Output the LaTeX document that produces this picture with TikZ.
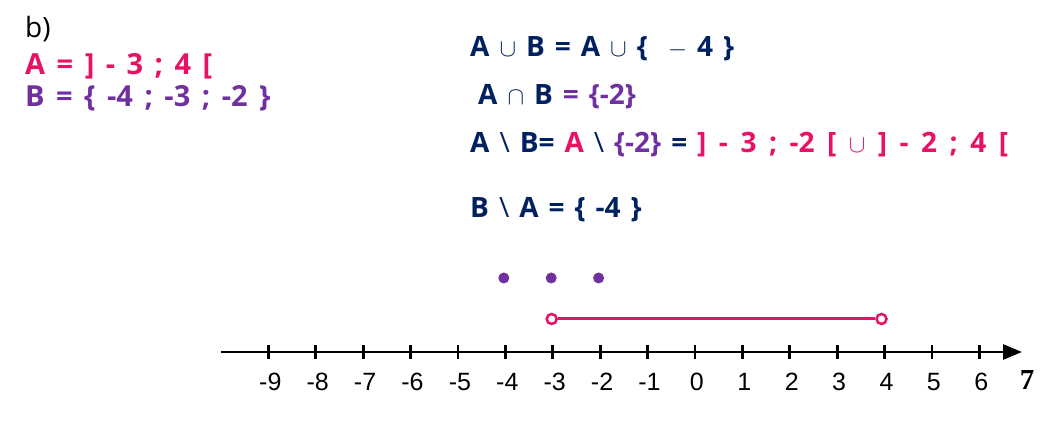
\documentclass[tikz,border=0pt]{standalone}
\usepackage{fontspec}
\setmainfont{Open Sans}
\newfontfamily\axisfont{Liberation Sans}
\newfontfamily\sevenfont{Liberation Serif}
\usetikzlibrary{calc, arrows.meta}

\definecolor{setA}{RGB}{232,17,101}
\definecolor{setB}{RGB}{112,48,160}
\definecolor{setOp}{RGB}{0,32,96}

\newcommand{\widesp}[1]{\spaceskip=#1\relax}
\newcommand{\bsl}{{\mdseries\textbackslash}}

\tikzset{
	txt/.style={anchor=base west, inner sep=0pt},
	deftxt/.style={txt, font=\fontsize{29}{31}\selectfont\bfseries, execute at begin node={\widesp{11.5pt}}},
	optxt/.style={txt, text=setOp, font=\fontsize{28}{30}\selectfont\bfseries, execute at begin node={\widesp{10pt}}},
	ticklbl/.style={inner sep=0pt, font=\axisfont\fontsize{25}{27}\selectfont},
	opendot/.style={circle, draw=setA, fill=white, line width=2.5pt, inner sep=0pt, minimum size=10pt},
	fulldot/.style={circle, fill=setB, inner sep=0pt, minimum size=11pt},
}

\begin{document}
\begin{tikzpicture}[x=1pt, y=-1pt]
					\useasboundingbox (0,0) rectangle (1054,427);
					\def\xo{268.3};
					\def\dx{47.4};
					\def\ya{352};
					
					\coordinate (axL) at (221,\ya);
					\coordinate (axR) at (1022,\ya);
					
					% the sets
					\begin{scope}
						\node[txt, font=\fontsize{28}{30}\selectfont] (part) at (25,38) {b)};
						\node[deftxt, text=setA] (setAdef) at (25,75) {A = ] - 3 ; 4 [};
						\node[deftxt, text=setB] (setBdef) at (25,107) {B = \{ -4 ; -3 ; -2 \}};
					\end{scope}
					
					% the operations
					\begin{scope}
						\node[optxt] (union) at (470,57) {A $\cup$ B = A $\cup$ \{ \ $-$ 4 \}};
						\node[optxt] (inter) at (478,105) {A $\cap$ B \textcolor{setB}{= \{-2\}}};
						\node[optxt] (diffAB) at (470,153) {A \bsl{} B= \textcolor{setA}{A} \bsl{} \textcolor{setB}{\{-2\}} = {\widesp{12.5pt}\textcolor{setA}{] - 3 ; -2 [ $\cup$ ] - 2 ; 4 [}}};
						\node[optxt] (diffBA) at (470,218) {B \bsl{} A = \{ -4 \}};
					\end{scope}
					
					% number line
					\begin{scope}[line width=2.8pt]
						\draw[-{Triangle[length=19pt, width=15pt]}] (axL) -- (axR);
						\foreach \k [count=\i from 0] in {-9,...,6} {
							\draw ({\xo+\i*\dx},345) -- ({\xo+\i*\dx},359);
							\node[ticklbl] (tick\i) at ({\xo+\i*\dx+2},382) {\k};
						}
						\node[inner sep=0pt, font=\sevenfont\bfseries\fontsize{29}{31}\selectfont] (seven) at (1027,380) {7};
					\end{scope}
					
					% B on the line
					\begin{scope}
						\foreach \k in {5,6,7} {
							\node[fulldot] (b\k) at ({\xo+\k*\dx-1.5},278) {};
						}
					\end{scope}
					
					% A on the line
					\begin{scope}
						\node[opendot] (aL) at ({\xo+6*\dx-1},319) {};
						\node[opendot] (aR) at ({\xo+13*\dx-3},319) {};
						\draw[setA, line width=3pt] (aL) -- (aR);
					\end{scope}
				\end{tikzpicture}
\end{document}
